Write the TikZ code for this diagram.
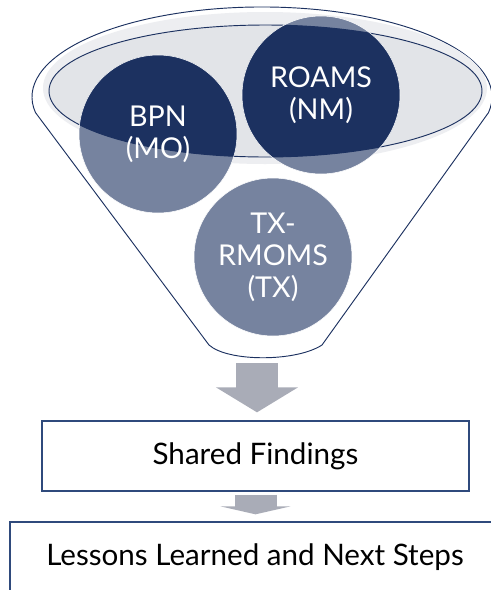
\documentclass[tikz,border=0pt]{standalone}
\usepackage{fontspec}
\setmainfont{Lato}
\usepackage{tikz}
\usetikzlibrary{arrows.meta}
\definecolor{navy}{HTML}{1C3160}
\definecolor{slate}{HTML}{76839F}
\definecolor{rimgray}{HTML}{EDEEF1}
\definecolor{bowlgray}{HTML}{E2E4E8}
\definecolor{arrowgray}{HTML}{A9ACB7}
\definecolor{boxblue}{HTML}{2F4A7C}
\tikzstyle{blockarrow} = [draw=arrowgray, line width=31.5pt]
\tikzstyle{circtext} = [circle, draw=white, thin, minimum size=118.5pt, inner sep=0pt, text=white, align=center, font=\fontsize{21.5}{24}\selectfont]
\tikzstyle{stepbox} = [draw=boxblue, line width=1pt, fill=white, minimum height=52.5pt, font=\fontsize{22.2}{26}\selectfont]

\begin{document}
\begin{tikzpicture}[x=0.75pt,y=0.75pt]

\clip (0,0) rectangle (491,-590);

%%% %%%
% Funnel
%%% %%%

\draw[navy, fill=white, line width=0.7pt] (35.5,-112.6) -- (209,-345) .. controls (228,-362) and (296,-362) .. (322,-345) -- (488.5,-112.6) arc[start angle=-10, end angle=190, x radius=230, y radius=90] -- cycle;

\fill[rimgray] (265,-88) ellipse[x radius=222, y radius=76];
\fill[bowlgray] (265.5,-91) ellipse[x radius=216.5, y radius=66];

%%% %%%
% Circles
%%% %%%

\coordinate (cBPN) at (158,-134);
\coordinate (cROAMS) at (321,-95);
\coordinate (cTX) at (273,-257);

\foreach \c in {cBPN,cROAMS,cTX}
\fill[slate] (\c) circle[radius=79];

\begin{scope}
\clip (265.5,-91) ellipse[x radius=216.5, y radius=66];
\foreach \c in {cBPN,cROAMS,cTX}
\fill[navy] (\c) circle[radius=79];
\end{scope}

\draw[navy, line width=0.7pt] (265.5,-91) ellipse[x radius=216.5, y radius=66];

\node[circtext] (BPN) at (cBPN) {BPN\\(MO)};
\node[circtext] (ROAMS) at (cROAMS) {ROAMS\\(NM)};
\node[circtext] (TXRMOMS) at (cTX) {TX-\\RMOMS\\(TX)};

%%% %%%
% Boxes
%%% %%%

\node[stepbox, minimum width=320.25pt] (Shared) at (255.5,-456) {Shared Findings};
\node[stepbox, minimum width=367.5pt] (Lessons) at (255,-557) {Lessons Learned and Next Steps};

%%%
% Arrows
%%%

\coordinate (fbot) at (257,-363);
\draw [blockarrow, -{Triangle[width=60.75pt,length=18.75pt]}, shorten >=6pt] (fbot) -- (fbot |- Shared.north);
\draw [blockarrow, -{Triangle[width=52.5pt,length=6pt]}, shorten <=2.25pt, shorten >=5.25pt] (Shared.south) -- (Shared.south |- Lessons.north);

\end{tikzpicture}
\end{document}
